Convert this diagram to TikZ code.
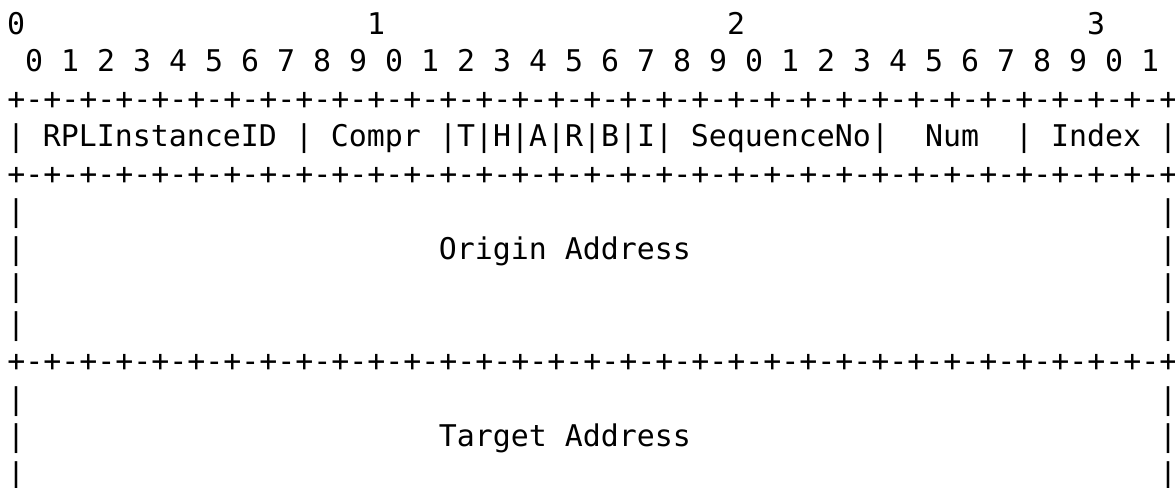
\documentclass[tikz,border=0pt]{standalone}
\usepackage{fontspec}
\setmonofont{DejaVu Sans Mono}
\tikzset{
  chr/.style={inner sep=0pt, anchor=base, font=\ttfamily\fontsize{14.95pt}{18.75pt}\selectfont},
  rule/.style={chr, anchor=base west}
}
\begin{document}
\begin{tikzpicture}[x=9pt, y=-18.75pt]
\useasboundingbox (-0.889,-0.907) rectangle (64.389,12.08);
% bit numbers
\foreach \t/\c in {0/0,1/20,2/40,3/60}
  \node[chr] (ten\t) at (\c,0) {\t};
\foreach \b in {0,...,31} {
  \pgfmathtruncatemacro{\d}{mod(\b,10)}
  \node[chr] (bit\b) at ({2*\b+1},1) {\d};
}
% separator lines
\foreach \r in {2,4,9}
  \node[rule] (rule\r) at (-0.5,\r) {+-+-+-+-+-+-+-+-+-+-+-+-+-+-+-+-+-+-+-+-+-+-+-+-+-+-+-+-+-+-+-+-+};
% first word
\foreach \c in {0,16,24,26,28,30,32,34,36,48,56,64}
  \node[chr] (bar\c) at (\c,3) {|};
\node[chr] (inst) at (8,3) {RPLInstanceID};
\node[chr] (compr) at (20,3) {Compr};
\foreach \f/\c in {T/25,H/27,A/29,R/31,B/33,I/35}
  \node[chr] (flag\f) at (\c,3) {\f};
\node[chr] (seq) at (42.5,3) {SequenceNo};
\node[chr] (num) at (52,3) {Num};
\node[chr] (index) at (60,3) {Index};
% address blocks
\foreach \r in {5,6,7,8,10,11,12} {
  \node[chr] (left\r) at (0,\r) {|};
  \node[chr] (right\r) at (64,\r) {|};
}
\node[chr] (origin) at (30.5,6) {Origin Address};
\node[chr] (target) at (30.5,11) {Target Address};
\end{tikzpicture}
\end{document}
